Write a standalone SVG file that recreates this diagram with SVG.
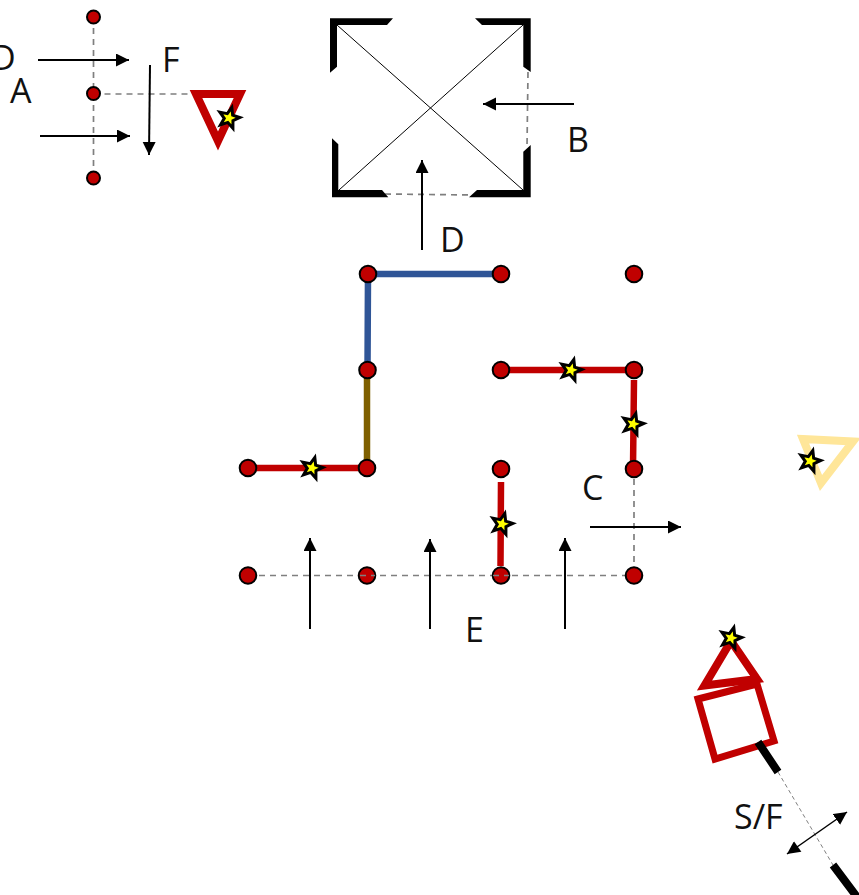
<svg xmlns="http://www.w3.org/2000/svg" width="859" height="895" viewBox="0 0 859 895">
<style>
text{font-family:"Open Sans","Noto Sans","Liberation Sans",sans-serif;font-size:34px;fill:#111}
.dash{stroke:#7f7f7f;stroke-width:1.7;stroke-dasharray:6 5;fill:none}
.arr{stroke:#000;stroke-width:2;fill:none;marker-end:url(#ah)}
.arr2{stroke:#000;stroke-width:1.5;fill:none;marker-end:url(#ah);marker-start:url(#ahs)}
.n{fill:#c00000;stroke:#000;stroke-width:2}
.w{fill:none;stroke-width:6.500}
.red{stroke:#c00000}
.tri{fill:none;stroke:#c00000;stroke-width:8}
.star{fill:#ffff00;stroke:#000;stroke-width:2.600;stroke-linejoin:miter;stroke-miterlimit:10}
.blk{fill:#000}
</style>
<defs>
<marker id="ah" markerUnits="userSpaceOnUse" markerWidth="14" markerHeight="14" refX="13" refY="6.5" orient="auto"><path d="M0 0L13 6.5L0 13Z" fill="#000"/></marker>
<marker id="ahs" markerUnits="userSpaceOnUse" markerWidth="14" markerHeight="14" refX="0" refY="6.5" orient="auto"><path d="M13 0L0 6.5L13 13Z" fill="#000"/></marker>
<polygon id="st" class="star" points="0,-9.500 2.400,-3.300 9,-2.900 3.900,1.300 5.600,7.700 0,4 -5.600,7.700 -3.900,1.300 -9,-2.900 -2.400,-3.300"/>
</defs>
<g id="connectors">
<path class="dash" d="M93.500 17V178M93.500 94H193"/>
<path class="dash" d="M528 72L527 147M385 194L472 195"/>
<path class="dash" d="M248 575.500H634M634 468V575"/>
<path d="M778 772L833 865" stroke="#7f7f7f" stroke-width="1" stroke-dasharray="4 3" fill="none"/>
<path class="w" stroke="#2f5597" d="M368 274H501M368 274L367.500 370"/>
<path class="w" stroke="#7f6000" d="M367 370V468"/>
<path class="w red" d="M248 468H367M501 370H634M634 380L633 468M501 482L500.500 566"/>
<path class="arr" d="M38 60H129"/>
<path class="arr" d="M40 136H130"/>
<path class="arr" d="M150 65L149 155"/>
<path class="arr" d="M574 104H483"/>
<path class="arr" d="M422 250V160"/>
<path class="arr" d="M310 629V538"/>
<path class="arr" d="M430 629V539"/>
<path class="arr" d="M565 629V538"/>
<path class="arr" d="M590 527H681"/>
<path class="arr2" d="M787 854L847 812"/>
</g>
<g id="box">
<polygon class="blk" points="330,18.300 393,18.300 387,25 337,25 337,66.700 330,72.700"/>
<polygon class="blk" points="475,18.300 530.700,18.300 530.700,72 523.300,66.700 523.300,25 482,25"/>
<polygon class="blk" points="332,138.300 338.300,144.300 338.300,190 382,190 388.300,197.300 332,197.300"/>
<polygon class="blk" points="469,197.300 530.700,197.300 530.700,145 523.300,151.700 523.300,190 477,190"/>
<path d="M337 25L523 190M523 25L339 190" stroke="#000" stroke-width="1" fill="none"/>
</g>
<g id="nodes-a">
<circle class="n" cx="93.500" cy="17" r="6.500"/>
<circle class="n" cx="93.500" cy="93.500" r="6.500"/>
<circle class="n" cx="93.500" cy="178" r="6.500"/>
</g>
<g id="nodes-grid">
<circle class="n" cx="368" cy="274" r="8.300"/>
<circle class="n" cx="501" cy="274" r="8.300"/>
<circle class="n" cx="634" cy="274" r="8.300"/>
<circle class="n" cx="367.500" cy="370" r="8.300"/>
<circle class="n" cx="501" cy="370" r="8.300"/>
<circle class="n" cx="634" cy="370" r="8.300"/>
<circle class="n" cx="248" cy="468" r="8.300"/>
<circle class="n" cx="367" cy="468" r="8.300"/>
<circle class="n" cx="501" cy="469" r="8.300"/>
<circle class="n" cx="634" cy="469" r="8.300"/>
<circle class="n" cx="248" cy="575.500" r="8.300"/>
<circle class="n" cx="367" cy="575.500" r="8.300"/>
<circle class="n" cx="501" cy="575.500" r="8.300"/>
<circle class="n" cx="634" cy="575.500" r="8.300"/>
<path class="dash" d="M360 575.500H375M493 575.500H509"/>
</g>
<g id="tri-a">
<polygon class="tri" points="196,94 240,94 218,141"/>
</g>
<g id="tri-yellow">
<polygon fill="none" stroke="#ffe699" stroke-width="8" points="803,439 853,441.500 821,483"/>
</g>
<g id="source">
<polygon class="tri" points="731,641 704.500,685.500 757,679"/>
<polygon fill="none" stroke="#c00000" stroke-width="7" points="698,699 757,684 774,741 715,759"/>
<path d="M758 742L778 772M833 865L860 901" stroke="#000" stroke-width="8" fill="none"/>
</g>
<g id="stars">
<use href="#st" transform="translate(229,118) rotate(15) scale(1.150)"/>
<use href="#st" transform="translate(312,468) rotate(15) scale(1.150)"/>
<use href="#st" transform="translate(571,370) rotate(15) scale(1.150)"/>
<use href="#st" transform="translate(633,424) rotate(15) scale(1.150)"/>
<use href="#st" transform="translate(502,524) rotate(15) scale(1.150)"/>
<use href="#st" transform="translate(810,461) rotate(15) scale(1.150)"/>
<use href="#st" transform="translate(731,638) rotate(15) scale(1.150)"/>
</g>
<g id="labels">
<text x="-9" y="70">D</text>
<text x="10" y="103">A</text>
<text x="162" y="72">F</text>
<text x="567" y="152">B</text>
<text x="440" y="252">D</text>
<text x="582" y="500">C</text>
<text x="465" y="642">E</text>
<text x="734" y="829">S/F</text>
</g>
</svg>
